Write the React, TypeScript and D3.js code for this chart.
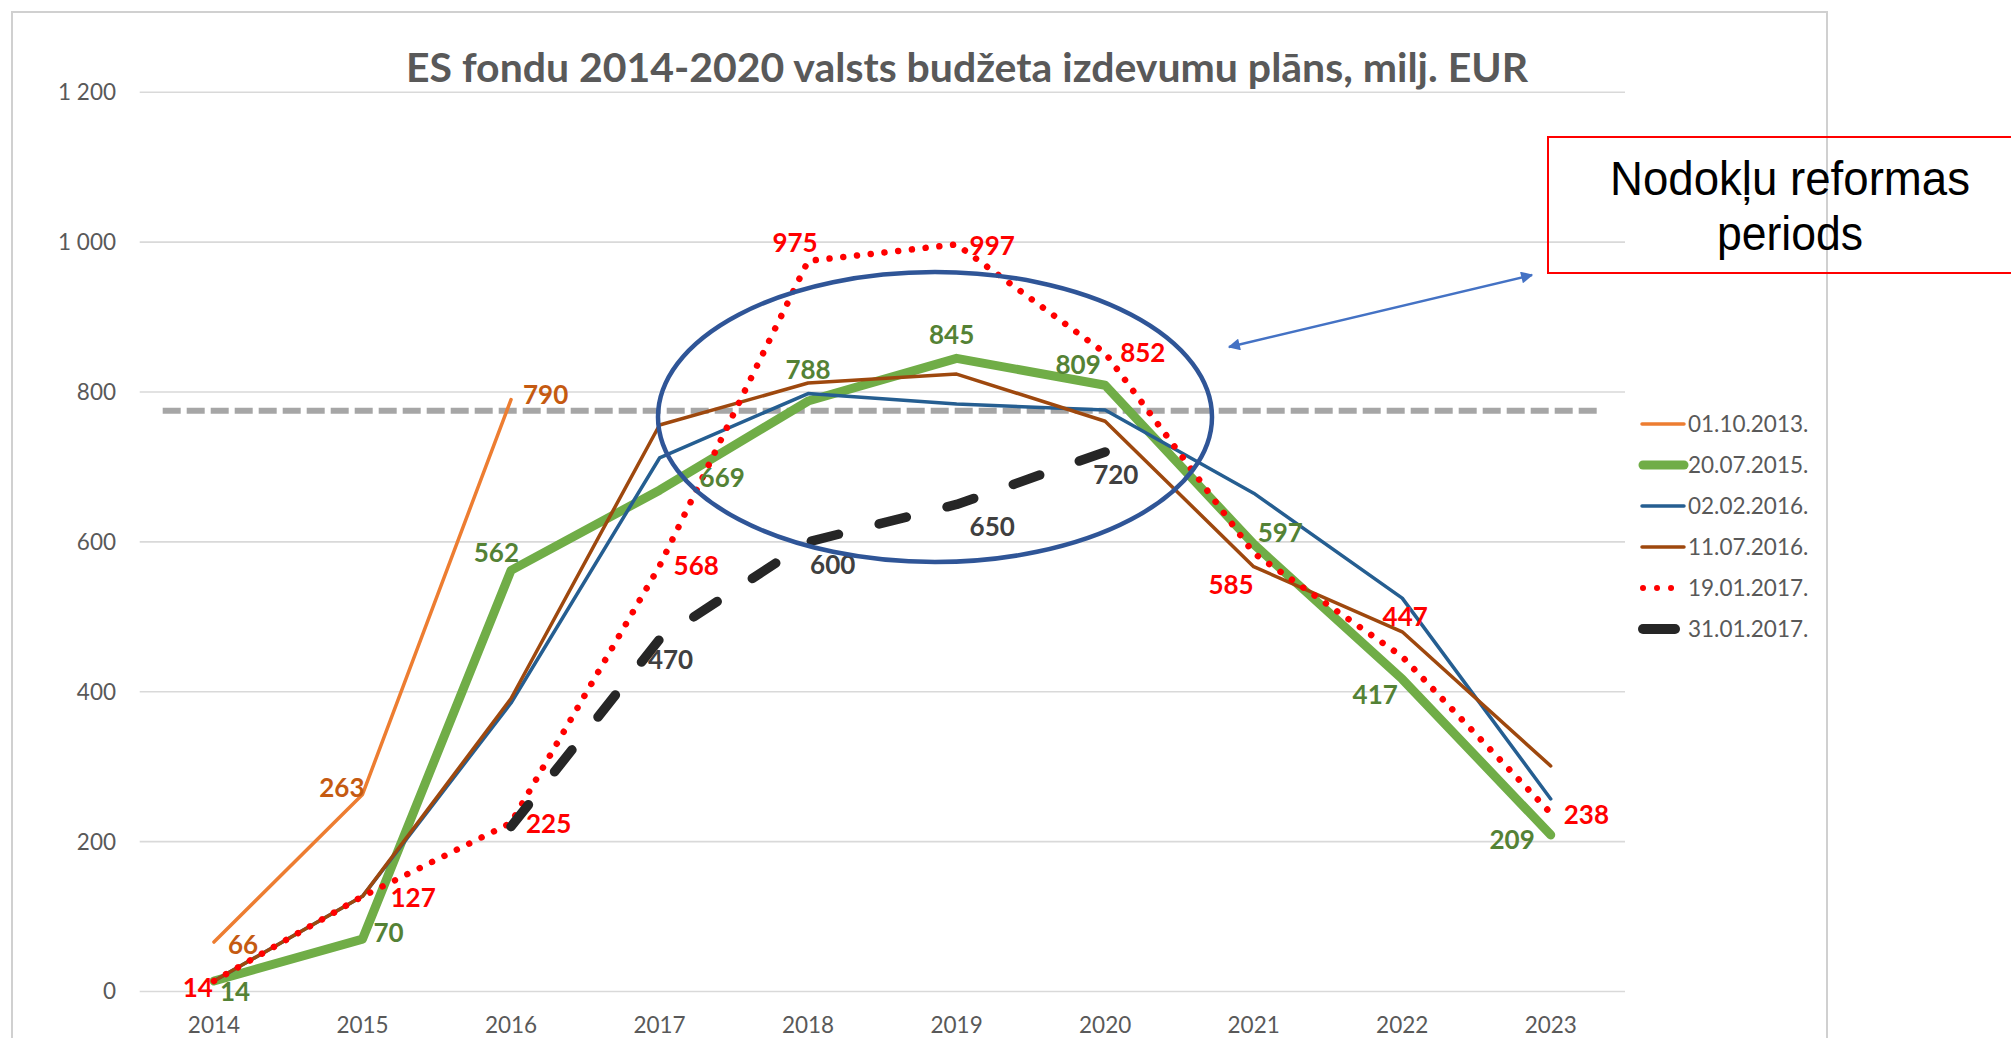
import React from 'react';
import * as d3 from 'd3';

// ---------- DATA ----------
const years = ['2014', '2015', '2016', '2017', '2018', '2019', '2020', '2021', '2022', '2023'];
const plan20131001: (number | null)[] = [66, 263, 790, null, null, null, null, null, null, null];
const plan20150720: (number | null)[] = [14, 70, 562, 669, 788, 845, 809, 597, 417, 209];
const plan20160202: (number | null)[] = [14, 127, 385, 712, 798, 784, 776, 665, 525, 257];
const plan20160711: (number | null)[] = [14, 127, 391, 756, 812, 824, 761, 567, 480, 301];
const plan20170119: (number | null)[] = [14, 127, 225, 568, 975, 997, 852, 585, 447, 238];
const plan20170131: (number | null)[] = [null, null, 220, 470, 600, 650, 720, null, null, null];
const seriesNames = ['01.10.2013.', '20.07.2015.', '02.02.2016.', '11.07.2016.', '19.01.2017.', '31.01.2017.'];
const yTicks = [0, 200, 400, 600, 800, 1000, 1200];
const thresholdValue = 775;
const titleText = 'ES fondu 2014-2020 valsts budžeta izdevumu plāns, milj. EUR';
const noteLines = ['Nodokļu reformas', 'periods'];
// which points carry a value label
const labelIdxOrange = [0, 1, 2];
const labelIdxGreen = [0, 1, 2, 3, 4, 5, 6, 7, 8, 9];
const labelIdxRed = [0, 1, 2, 3, 4, 5, 6, 7, 8, 9];
const labelIdxBlack = [3, 4, 5, 6];

// ---------- STYLES / PLACEMENT ----------
type Anchor = 'start' | 'middle' | 'end';
type LP = [Anchor, number, number];
const posOrange: LP[] = [['start', 14, 3], ['end', 2, -7], ['start', 12, -5]];
const posGreen: LP[] = [
  ['start', 6, 11], ['start', 11, -6], ['end', 8, -17], ['start', 40, -12], ['middle', 0, -31],
  ['middle', -5, -23], ['middle', -27, -20], ['start', 4, -11], ['middle', -27, 16], ['end', -16, 5],
];
const posRed: LP[] = [
  ['end', -1, 7], ['start', 28, 2], ['start', 15, 1], ['start', 14, 0], ['middle', -13, -18],
  ['start', 13, 1], ['start', 15, 0], ['end', 0, 32], ['middle', 3, -40], ['start', 13, 2],
];
const posBlack: LP[] = [['middle', 11, 21], ['start', 2, 23], ['start', 13, 22], ['start', -12, 23]];

const W = 2011;
const H = 1038;
const FONT = "Lato, 'Open Sans', 'Noto Sans', sans-serif";
const NOTE_FONT = "'Liberation Sans Narrow', 'Arial Narrow', 'Liberation Sans', sans-serif";

export default function App() {
  const x = d3.scalePoint<string>().domain(years).range([139.7, 1625]).padding(0.5);
  const y = d3.scaleLinear().domain([0, 1200]).range([991.5, 92.3]);
  const fmt = d3.formatLocale({ thousands: '\u00a0', grouping: [3], decimal: ',', currency: ['', ''] }).format(',d');

  const line = d3
    .line<number | null>()
    .defined((d) => d !== null)
    .x((_, i) => x(years[i]) as number)
    .y((d) => y(d as number));

  const series = [
    { name: seriesNames[0], data: plan20131001, color: '#ED7D31', width: 3.5, dash: undefined as string | undefined },
    { name: seriesNames[1], data: plan20150720, color: '#70AD47', width: 9, dash: undefined },
    { name: seriesNames[2], data: plan20160202, color: '#255E91', width: 3.5, dash: undefined },
    { name: seriesNames[3], data: plan20160711, color: '#9E480E', width: 3.5, dash: undefined },
    { name: seriesNames[4], data: plan20170119, color: '#FF0000', width: 6.5, dash: '0.01 13.8' },
    { name: seriesNames[5], data: plan20170131, color: '#262626', width: 9.5, dash: '28 42' },
  ];

  const labelGroups = [
    { data: plan20131001, idx: labelIdxOrange, pos: posOrange, color: '#C55A11' },
    { data: plan20150720, idx: labelIdxGreen, pos: posGreen, color: '#548235' },
    { data: plan20170119, idx: labelIdxRed, pos: posRed, color: '#FF0000' },
    { data: plan20170131, idx: labelIdxBlack, pos: posBlack, color: '#404040' },
  ];

  const x0 = x(years[0]) as number;
  const x9 = x(years[years.length - 1]) as number;
  const step = x.step();

  const legendX = 1642;
  const legendY0 = 424;
  const legendStep = 41;

  return (
    <svg width={W} height={H} style={{ position: 'absolute', left: 0, top: 0 }} xmlns="http://www.w3.org/2000/svg">
      <defs>
        <marker id="ah" viewBox="0 0 10 10" refX="9" refY="5" markerWidth="14" markerHeight="12" markerUnits="userSpaceOnUse" orient="auto-start-reverse">
          <path d="M0,0 L10,5 L0,10 z" fill="#4472C4" />
        </marker>
      </defs>
      <rect x={0} y={0} width={W} height={H} fill="#ffffff" />
      {/* chart frame */}
      <rect x={12} y={12} width={1815} height={H + 20} fill="none" stroke="#D0D0D0" strokeWidth={2} />

      {/* title */}
      <text x={967} y={82} textAnchor="middle" fontFamily={FONT} fontWeight="bold" fontSize={40} fill="#595959" textLength={1122} lengthAdjust="spacingAndGlyphs">
        {titleText}
      </text>

      {/* gridlines and y ticks */}
      {yTicks.map((t) => (
        <g key={t}>
          <line x1={139.7} x2={1625} y1={y(t)} y2={y(t)} stroke="#D9D9D9" strokeWidth={1.6} />
          <text x={116} y={y(t)} dy="0.35em" textAnchor="end" fontFamily={FONT} fontSize={22.5} fill="#595959">
            {fmt(t)}
          </text>
        </g>
      ))}

      {/* x ticks */}
      {years.map((yr) => (
        <text key={yr} x={x(yr)} y={1033} textAnchor="middle" fontFamily={FONT} fontSize={22.5} fill="#595959">
          {yr}
        </text>
      ))}

      {/* threshold dashed line */}
      <line x1={x0 - step / 2 + 23} x2={x9 + step / 2 - 23} y1={y(thresholdValue)} y2={y(thresholdValue)} stroke="#A6A6A6" strokeWidth={6} strokeDasharray="18 6" />

      {/* series */}
      {series.map((s) => (
        <path key={s.name} d={line(s.data) || ''} fill="none" stroke={s.color} strokeWidth={s.width} strokeDasharray={s.dash} strokeLinecap="round" strokeLinejoin="round" />
      ))}

      {/* value labels */}
      {labelGroups.map((g, gi) =>
        g.idx.map((i, k) => {
          const v = g.data[i] as number;
          const [anchor, dx, dy] = g.pos[k];
          return (
            <text key={`${gi}-${i}`} x={(x(years[i]) as number) + dx} y={y(v) + dy} dy="0.35em" textAnchor={anchor} fontFamily={FONT} fontWeight="bold" fontSize={26} fill={g.color}>
              {v}
            </text>
          );
        })
      )}

      {/* ellipse annotation */}
      <ellipse cx={935} cy={417} rx={277} ry={145} fill="none" stroke="#2F5597" strokeWidth={4.5} />

      {/* arrow */}
      <line x1={1229} y1={347} x2={1532} y2={275} stroke="#4472C4" strokeWidth={2.5} markerStart="url(#ah)" markerEnd="url(#ah)" />

      {/* note box */}
      <rect x={1548} y={137} width={500} height={136} fill="none" stroke="#FF0000" strokeWidth={2} />
      <text x={1790} y={195} textAnchor="middle" fontFamily={NOTE_FONT} fontSize={48} fill="#000000" textLength={360} lengthAdjust="spacingAndGlyphs">
        {noteLines[0]}
      </text>
      <text x={1790} y={250} textAnchor="middle" fontFamily={NOTE_FONT} fontSize={48} fill="#000000" textLength={146} lengthAdjust="spacingAndGlyphs">
        {noteLines[1]}
      </text>

      {/* legend */}
      {series.map((s, i) => {
        const ly = legendY0 + i * legendStep;
        let sym: React.ReactNode;
        if (i === 4) {
          sym = <line x1={legendX + 1} x2={legendX + 30} y1={ly} y2={ly} stroke={s.color} strokeWidth={6} strokeDasharray="0.01 14" strokeLinecap="round" />;
        } else if (i === 5) {
          sym = <line x1={legendX + 1} x2={legendX + 33} y1={ly} y2={ly} stroke={s.color} strokeWidth={10} strokeLinecap="round" />;
        } else if (i === 1) {
          sym = <line x1={legendX + 1} x2={legendX + 42} y1={ly} y2={ly} stroke={s.color} strokeWidth={9} strokeLinecap="round" />;
        } else {
          sym = <line x1={legendX} x2={legendX + 42} y1={ly} y2={ly} stroke={s.color} strokeWidth={3.5} strokeLinecap="round" />;
        }
        return (
          <g key={s.name}>
            {sym}
            <text x={1688} y={ly} dy="0.35em" fontFamily={FONT} fontSize={22.5} fill="#595959">
              {s.name}
            </text>
          </g>
        );
      })}
    </svg>
  );
}
